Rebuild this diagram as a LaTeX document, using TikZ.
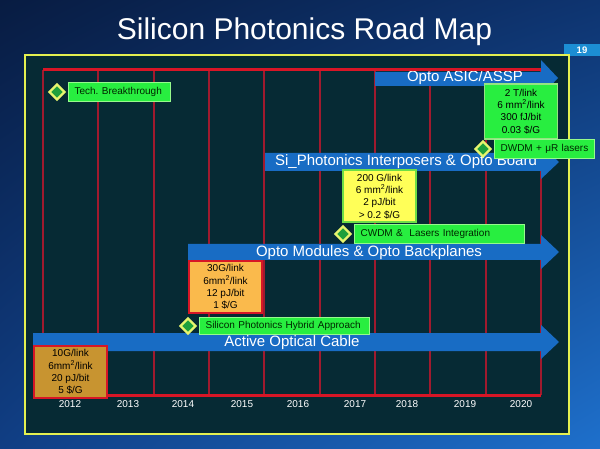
\documentclass[tikz,border=0pt]{standalone}
\usepackage{fontspec}
\setmainfont{Liberation Sans}
\usepackage{xcolor}
\usetikzlibrary{shapes.geometric,positioning,shadings}
\frenchspacing

\definecolor{navytop}{RGB}{8,28,66}
\definecolor{navyright}{RGB}{14,52,112}
\definecolor{navyleft}{RGB}{16,62,132}
\definecolor{navylow}{RGB}{30,112,204}
\definecolor{panel}{RGB}{6,42,52}
\definecolor{frameyellow}{RGB}{228,240,80}
\definecolor{roadred}{RGB}{215,22,38}
\definecolor{gridred}{RGB}{160,26,46}
\definecolor{roadblue}{RGB}{24,108,196}
\definecolor{pageblue}{RGB}{28,142,212}
\definecolor{labelgreen}{RGB}{40,238,64}
\definecolor{labelrim}{RGB}{150,250,140}
\definecolor{diagreen}{RGB}{30,160,60}
\definecolor{diayellow}{RGB}{230,245,110}
\definecolor{goldbox}{RGB}{200,148,48}
\definecolor{orangebox}{RGB}{250,186,76}
\definecolor{yellowbox}{RGB}{255,255,88}
\definecolor{yellowrim}{RGB}{110,222,70}
\definecolor{greenrim}{RGB}{150,226,130}

\begin{document}
\begin{tikzpicture}[x=1pt,y=-1pt,
    gridline/.style={gridred,line width=1.3pt},
    roadline/.style={roadred,line width=3pt},
    roadarrow/.style={fill=roadblue},
    arrowtext/.style={text=white,inner sep=0pt,font=\fontsize{15}{15}\selectfont},
    yeartext/.style={text=white,inner sep=0pt,font=\fontsize{10}{10}\selectfont},
    milestone/.style={diamond,draw=diayellow,line width=2.2pt,fill=diagreen,minimum size=16pt,inner sep=0pt},
    eventlabel/.style={fill=labelgreen,draw=labelrim,line width=1pt,minimum height=19pt,inner xsep=6pt,inner ysep=0pt,align=left,text=black!85!green,font=\fontsize{10}{12}\selectfont},
    specbox/.style={align=center,inner sep=0pt,minimum width=73pt,minimum height=52pt,font=\fontsize{10}{12.3}\selectfont}
  ]
  \useasboundingbox (0,0) rectangle (600,449);
  \shade[upper left=navytop,upper right=navyright,lower left=navyleft,lower right=navylow] (0,0) rectangle (600,449);

  \node[text=white,anchor=base,inner sep=0pt,font=\fontsize{30}{30}\selectfont] (title) at (304.5,40) {Silicon Photonics Road Map};
  \fill[pageblue] (564,44) rectangle (600,56);
  \node[text=white,inner sep=0pt,font=\bfseries\fontsize{9.5}{10}\selectfont] (pagenum) at (582,50) {19};

  \fill[panel] (25,55) rectangle (569,434);
  \draw[frameyellow,line width=2.5pt] (25,55) rectangle (569,434);

  \foreach \xx in {43,98,154,209,264,320,375,430,486,541}
    \draw[gridline] (\xx,70) -- (\xx,395);
  \draw[roadline] (43,395) -- (541,395);

  \fill[roadarrow] (33,333) -- (541,333) -- (541,325) -- (559,342) -- (541,359) -- (541,351) -- (33,351) -- cycle;
  \node[arrowtext] (aoc) at (292,343) {Active Optical Cable};
  \fill[roadarrow] (188,244) -- (541,244) -- (541,235) -- (559,252) -- (541,269) -- (541,260) -- (188,260) -- cycle;
  \node[arrowtext] (modules) at (369,253) {Opto Modules \& Opto Backplanes};
  \fill[roadarrow] (265,153) -- (541,153) -- (541,145) -- (559,162) -- (541,179) -- (541,171) -- (265,171) -- cycle;
  \node[arrowtext] (interposer) at (406,162) {Si\_Photonics Interposers \& Opto Board};
  \fill[roadarrow] (375,72) -- (541,72) -- (541,60) -- (558,78) -- (541,96) -- (541,86) -- (375,86) -- cycle;
  \node[arrowtext] (asic) at (465,78) {Opto ASIC/ASSP};
  \draw[roadline] (43,70) -- (541,70);

  \node[specbox,fill=goldbox,draw=roadred,line width=2.5pt] (gen1) at (70.5,372) {10G/link\\6mm\textsuperscript{2}/link\\20 pJ/bit\\5 \$/G};
  \node[specbox,fill=orangebox,draw=roadred,line width=2.5pt] (gen2) at (225.5,287) {30G/link\\6mm\textsuperscript{2}/link\\12 pJ/bit\\1 \$/G};
  \node[specbox,fill=yellowbox,draw=yellowrim,line width=2pt] (gen3) at (379.5,196.5) {200 G/link\\6 mm\textsuperscript{2}/link\\2 pJ/bit\\> 0.2 \$/G};
  \node[specbox,fill=labelgreen,draw=greenrim,line width=1.5pt,minimum height=55pt] (gen4) at (521,111.5) {2 T/link\\6 mm\textsuperscript{2}/link\\300 fJ/bit\\0.03 \$/G};

  \node[milestone] (techdia) at (57,92) {};
  \node[eventlabel,right=2pt of techdia,text width=90pt] (techlabel) {Tech. Breakthrough};
  \node[milestone] (hybriddia) at (188,326) {};
  \node[eventlabel,right=2pt of hybriddia,text width=158pt,minimum height=17pt] (hybridlabel) {Silicon Photonics Hybrid Approach};
  \node[milestone] (cwdmdia) at (343,234) {};
  \node[eventlabel,right=2pt of cwdmdia,text width=158pt] (cwdmlabel) {CWDM \&\ \ Lasers Integration};
  \node[milestone] (dwdmdia) at (483,149) {};
  \node[eventlabel,right=2pt of dwdmdia,text width=88pt] (dwdmlabel) {DWDM + μR lasers};

  \foreach \yr/\xx in {2012/70,2013/128,2014/183,2015/242,2016/298,2017/355,2018/407,2019/465,2020/521}
    \node[yeartext] (y\yr) at (\xx,404) {\yr};
\end{tikzpicture}
\end{document}
